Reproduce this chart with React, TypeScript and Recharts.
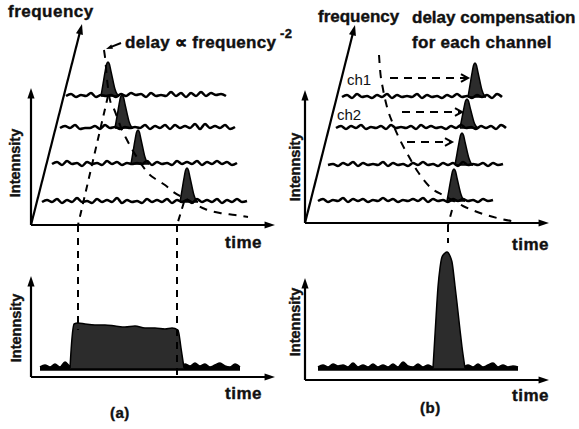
import React from 'react';
import { ComposedChart, Line, Area, XAxis, YAxis, ReferenceLine } from 'recharts';

const WIDTH = 579;
const HEIGHT = 429;
const SAMPLE_STEP = 5;

// ---------- (a) upper: dispersed frequency channels ----------
const aChanBase = [333, 301, 265, 227];
const aChanStart = [66, 60, 52, 42];
const aNoise1 = [0, 2, -1, 1, 0, 3, -1, 1, 0, 1, -1, 2, 0, 3, 1, 2, -1, 3, 0, 1, 0, 4, 0, 3, -1, 3, 0, 4, 0, 3, 1, 2, 0];
const aNoise2 = [0, 2, 0, 3, -1, 0, 0, 2, -1, 3, 0, 1, -1, 1, 0, 1, 0, 3, -1, 2, 0, 3, -1, 3, 0, 2, 0, 4, -1, 4, 0, 2, 0, 3, -1, 1];
const aNoise3 = [0, 2, -1, 3, 0, 1, -2, 2, 0, 1, -1, 3, 0, 2, -1, 1, 0, 1, 0, 3, -1, 2, 0, 1, -1, 3, 0, 2, 0, 3, -1, 2, 0, 3, 0, 2, -1, 1];
const aNoise4 = [0, 2, 0, 3, -1, 2, 0, 4, 0, 1, -1, 3, 0, 2, 0, 4, -1, 2, 0, 1, -1, 3, 0, 2, 0, 3, -1, 2, 0, 2, -1, 3, 0, 2, 0, 3, -1, 2, 0, 3, 0, 1];
const aNoise = [aNoise1, aNoise2, aNoise3, aNoise4];
const aPulseTime = [108, 122, 138, 187];
const aPulseHeight = [34, 33, 34, 34];

// ---------- (b) upper: delay-compensated channels ----------
const bChanBase = [332, 301, 264, 228];
const bChanStart = [342, 336, 328, 318];
const bNoise1 = [0, 2, -1, 3, 0, 1, -1, 2, 0, 3, -1, 2, 0, 1, 0, 3, -1, 2, 0, 1, -1, 2, 0, 3, 0, 1, -1, 2, 0, 2, -1, 3, 0];
const bNoise2 = [0, 2, -1, 2, 0, 3, -1, 1, 0, 2, -1, 3, 0, 1, 0, 2, -1, 3, 0, 2, 0, 1, -1, 2, 0, 3, 0, 1, -1, 2, 0, 2, -1, 3, 0];
const bNoise3 = [0, 1, -1, 2, 0, 3, -1, 2, 0, 1, 0, 3, -1, 2, 0, 1, -1, 2, 0, 3, 0, 1, -1, 2, 0, 2, -1, 3, 0, 1, 0, 2, -1, 2, 0, 1];
const bNoise4 = [0, 2, -1, 1, 0, 3, -1, 2, 0, 2, -1, 1, 0, 3, 0, 2, -1, 1, 0, 2, 0, 3, -1, 2, 0, 1, -1, 2, 0, 2, 0, 1, -1, 2, 0, 1];
const bNoise = [bNoise1, bNoise2, bNoise3, bNoise4];
const bPulseTime = [475, 467, 462, 454];
const bPulseHeight = [34, 29, 32, 32];

// single-channel pulse profile: time offset and relative height
const pulseOffsets = [-7, -5, -3, -1.5, 0, 1.5, 3, 5, 7, 9, 11];
const pulseProfile = [0, 0.35, 0.7, 0.93, 1, 0.93, 0.72, 0.45, 0.2, 0.06, 0];

// ---------- (a) lower: summed without compensation ----------
const aSumBase = 61;
const aSumStart = 40;
const aSumNoise = [1, 3, 1, 4, 1, 6, 2, 3, 1, 4, 1, 2, 1, 2, 1, 2, 1, 2, 1, 2, 1, 2, 1, 2, 1, 2, 1, 2, 1, 4, 2, 5, 2, 4, 1, 3, 5, 2, 1, 4, 1];
const aSumTimes = [70, 72, 74, 78, 85, 95, 105, 115, 125, 135, 145, 155, 165, 172, 178, 181, 184];
const aSumLevel = [0, 30, 44, 45, 44, 43, 43, 42, 41, 42, 40, 40, 39, 40, 38, 20, 0];

// ---------- (b) lower: summed with compensation ----------
const bSumBase = 61;
const bSumStart = 318;
const bSumNoise = [1, 3, 1, 4, 2, 3, 1, 5, 1, 3, 1, 4, 1, 3, 1, 4, 1, 6, 2, 1, 4, 1, 3, 1, 5, 1, 3, 1, 4, 1, 3, 1, 4, 1, 3, 5, 1, 3, 1, 2, 1];
const bSumTimes = [433, 436, 438, 440, 442, 445, 447, 450, 452, 455, 457, 460, 462, 465];
const bSumLevel = [0, 50, 81, 100, 111, 115, 116, 112, 106, 82, 65, 38, 21, 0];

// ---------- dashed guide curves ----------
const aDelayT = [104, 105, 107, 110, 114, 122, 127, 138, 148, 157, 165, 172, 190, 205, 220, 235, 248];
const aDelayV = [379, 372, 350, 329, 320, 299, 289, 270, 256, 249, 244, 238, 228, 220, 216, 214, 212];
const bDelayT = [379, 380, 383, 387, 393, 400, 408, 418, 430, 445, 463, 480, 497, 517];
const bDelayV = [374, 360, 340, 322, 305, 289, 274, 257, 242, 233, 223, 216, 211, 207];

// channel shift arrows in (b): start time, end time, level
const shiftFrom = [390, 402, 407];
const shiftTo = [468, 462, 452];
const shiftLevel = [351, 317, 287];

const trace = (start: number, base: number, noise: number[]) =>
  noise.map((n, i) => ({ t: start + i * SAMPLE_STEP, v: base + n }));
const band = (start: number, base: number, noise: number[]) =>
  noise.map((n, i) => ({ t: start + i * SAMPLE_STEP, r: [base - 2, base + n] }));
const pulse = (t0: number, base: number, h: number) =>
  pulseOffsets.map((d, i) => ({ t: t0 + d, r: [base, base + h * pulseProfile[i]] }));
const shape = (times: number[], levels: number[], base: number) =>
  times.map((t, i) => ({ t, r: [base - 1, base + levels[i]] }));
const curve = (ts: number[], vs: number[]) => ts.map((t, i) => ({ t, v: vs[i] }));

const arrow =
  (opts: { dash?: string; head: number; open?: boolean; width?: number }) =>
  (p: any) => {
    const { x1, y1, x2, y2 } = p;
    const a = Math.atan2(y2 - y1, x2 - x1);
    const h = opts.head;
    const w = opts.open ? 0.5 : 0.33;
    const lx = x2 - h * Math.cos(a - w);
    const ly = y2 - h * Math.sin(a - w);
    const rx = x2 - h * Math.cos(a + w);
    const ry = y2 - h * Math.sin(a + w);
    const sw = opts.width ?? 2;
    const ex = opts.open ? x2 - 1 * Math.cos(a) : x2 - h * 0.8 * Math.cos(a);
    const ey = opts.open ? y2 - 1 * Math.sin(a) : y2 - h * 0.8 * Math.sin(a);
    return (
      <g>
        <line x1={x1} y1={y1} x2={ex} y2={ey} stroke="#000" strokeWidth={sw} strokeDasharray={opts.dash} />
        {opts.open ? (
          <polyline points={`${lx},${ly} ${x2},${y2} ${rx},${ry}`} fill="none" stroke="#000" strokeWidth={sw} />
        ) : (
          <polygon points={`${lx},${ly} ${x2},${y2} ${rx},${ry}`} fill="#000" />
        )}
      </g>
    );
  };

const plain = (dash?: string) => (p: any) => (
  <line x1={p.x1} y1={p.y1} x2={p.x2} y2={p.y2} stroke="#000" strokeWidth={2} strokeDasharray={dash} />
);

// axes: [x0, y0, x1, y1]
const axisArrows = [
  [31, 204, 31, 341], [31, 204, 82, 405], [31, 204, 275, 204],
  [31, 52, 31, 153], [31, 52, 275, 52],
  [305, 206, 305, 339], [305, 206, 355, 404], [305, 206, 549, 206],
  [305, 49, 305, 151], [305, 49, 549, 49],
];
// dashed projection lines [x0, y0, x1, y1]
const projections = [
  [108, 333, 78, 204], [78, 204, 78, 99],
  [184, 227, 177, 204], [177, 204, 177, 52],
  [452, 219, 448, 204], [448, 204, 448, 186],
];

const PULSE_FILL = '#2c2c2c';
const FONT = '"Liberation Sans", Arial, Helvetica, sans-serif';

const Txt = ({ x, y, children, size = 17, weight = 700, spacing = 0.5 }: any) => (
  <div
    style={{
      position: 'absolute', left: x, top: y - size * 0.6, fontFamily: FONT, fontSize: size,
      fontWeight: weight, lineHeight: `${size * 1.2}px`, whiteSpace: 'nowrap', color: '#111',
      letterSpacing: weight === 700 ? spacing : 0,
      WebkitTextStroke: weight === 700 ? '0.4px #111' : undefined,
    }}
  >
    {children}
  </div>
);
const VTxt = ({ x, y, children, size = 14.5 }: any) => (
  <div
    style={{
      position: 'absolute', left: x, top: y, transform: 'translate(-50%, -50%) rotate(-90deg)',
      fontFamily: FONT, fontSize: size, fontWeight: 700, lineHeight: `${size * 1.2}px`,
      whiteSpace: 'nowrap', color: '#111', WebkitTextStroke: '0.4px #111',
    }}
  >
    {children}
  </div>
);

export default function App() {
  const series: React.ReactNode[] = [];
  const addChannels = (
    key: string, starts: number[], bases: number[], noises: number[][], times: number[], heights: number[],
  ) => {
    bases.forEach((b, i) => {
      series.push(
        <Line key={`${key}l${i}`} data={trace(starts[i], b, noises[i])} dataKey="v" type="monotone"
          stroke="#000" strokeWidth={2.6} dot={false} activeDot={false} isAnimationActive={false} />,
      );
      series.push(
        <Area key={`${key}p${i}`} data={pulse(times[i], b, heights[i])} dataKey="r" type="monotone"
          stroke="#000" strokeWidth={1.5} fill={PULSE_FILL} fillOpacity={1} dot={false} activeDot={false}
          isAnimationActive={false} />,
      );
    });
  };
  addChannels('a', aChanStart, aChanBase, aNoise, aPulseTime, aPulseHeight);
  addChannels('b', bChanStart, bChanBase, bNoise, bPulseTime, bPulseHeight);

  return (
    <div style={{ position: 'absolute', left: 0, top: 0, width: WIDTH, height: HEIGHT, background: '#fff' }}>
      <ComposedChart width={WIDTH} height={HEIGHT} margin={{ top: 0, right: 0, bottom: 0, left: 0 }}>
        <XAxis type="number" dataKey="t" domain={[0, WIDTH]} hide allowDataOverflow />
        <YAxis type="number" domain={[0, HEIGHT]} hide allowDataOverflow />
        {axisArrows.map((s, i) => (
          <ReferenceLine key={`ax${i}`} segment={[{ x: s[0], y: s[1] }, { x: s[2], y: s[3] }]}
            ifOverflow="visible" shape={arrow({ head: 11, width: 2.2 })} />
        ))}
        {projections.map((s, i) => (
          <ReferenceLine key={`pr${i}`} segment={[{ x: s[0], y: s[1] }, { x: s[2], y: s[3] }]}
            ifOverflow="visible" shape={plain('7 6')} />
        ))}
        {shiftFrom.map((f, i) => (
          <ReferenceLine key={`sh${i}`} segment={[{ x: f, y: shiftLevel[i] }, { x: shiftTo[i], y: shiftLevel[i] }]}
            ifOverflow="visible" shape={arrow({ head: 8, open: true, dash: '8 6', width: 2 })} />
        ))}
        <ReferenceLine segment={[{ x: 121, y: 386 }, { x: 106, y: 380 }]} ifOverflow="visible"
          shape={arrow({ head: 7, width: 2 })} />
        <Line data={curve(aDelayT, aDelayV)} dataKey="v" type="monotone" stroke="#000" strokeWidth={2}
          strokeDasharray="8 7" dot={false} activeDot={false} isAnimationActive={false} />
        <Line data={curve(bDelayT, bDelayV)} dataKey="v" type="monotone" stroke="#000" strokeWidth={2}
          strokeDasharray="8 7" dot={false} activeDot={false} isAnimationActive={false} />
        {series}
        <Area data={band(aSumStart, aSumBase, aSumNoise)} dataKey="r" type="monotone" stroke="#000"
          strokeWidth={1.5} fill="#000" fillOpacity={1} isAnimationActive={false} dot={false} activeDot={false} />
        <Area data={shape(aSumTimes, aSumLevel, aSumBase)} dataKey="r" type="monotone" stroke="#000"
          strokeWidth={1.5} fill={PULSE_FILL} fillOpacity={1} isAnimationActive={false} dot={false} activeDot={false} />
        <Area data={band(bSumStart, bSumBase, bSumNoise)} dataKey="r" type="monotone" stroke="#000"
          strokeWidth={1.5} fill="#000" fillOpacity={1} isAnimationActive={false} dot={false} activeDot={false} />
        <Area data={shape(bSumTimes, bSumLevel, bSumBase)} dataKey="r" type="monotone" stroke="#000"
          strokeWidth={1.5} fill={PULSE_FILL} fillOpacity={1} isAnimationActive={false} dot={false} activeDot={false} />
      </ComposedChart>

      <Txt x={8} y={12}>frequency</Txt>
      <Txt x={125} y={43} spacing={0.3}>delay ∝ frequency</Txt>
      <Txt x={280} y={34} size={13}>-2</Txt>
      <VTxt x={16} y={163}>Intennsity</VTxt>
      <Txt x={225} y={243}>time</Txt>
      <VTxt x={17} y={328}>Intennsity</VTxt>
      <Txt x={225} y={394}>time</Txt>
      <Txt x={110} y={413} size={15}>(a)</Txt>

      <Txt x={318} y={17} spacing={0}>frequency</Txt>
      <Txt x={412} y={18} spacing={0}>delay compensation</Txt>
      <Txt x={412} y={43} spacing={0.3}>for each channel</Txt>
      <Txt x={347} y={80} size={15} weight={400}>ch1</Txt>
      <Txt x={337} y={115} size={15} weight={400}>ch2</Txt>
      <VTxt x={296} y={167}>Intennsity</VTxt>
      <Txt x={512} y={245}>time</Txt>
      <VTxt x={296} y={322}>Intennsity</VTxt>
      <Txt x={512} y={396}>time</Txt>
      <Txt x={420} y={408} size={15}>(b)</Txt>
    </div>
  );
}
